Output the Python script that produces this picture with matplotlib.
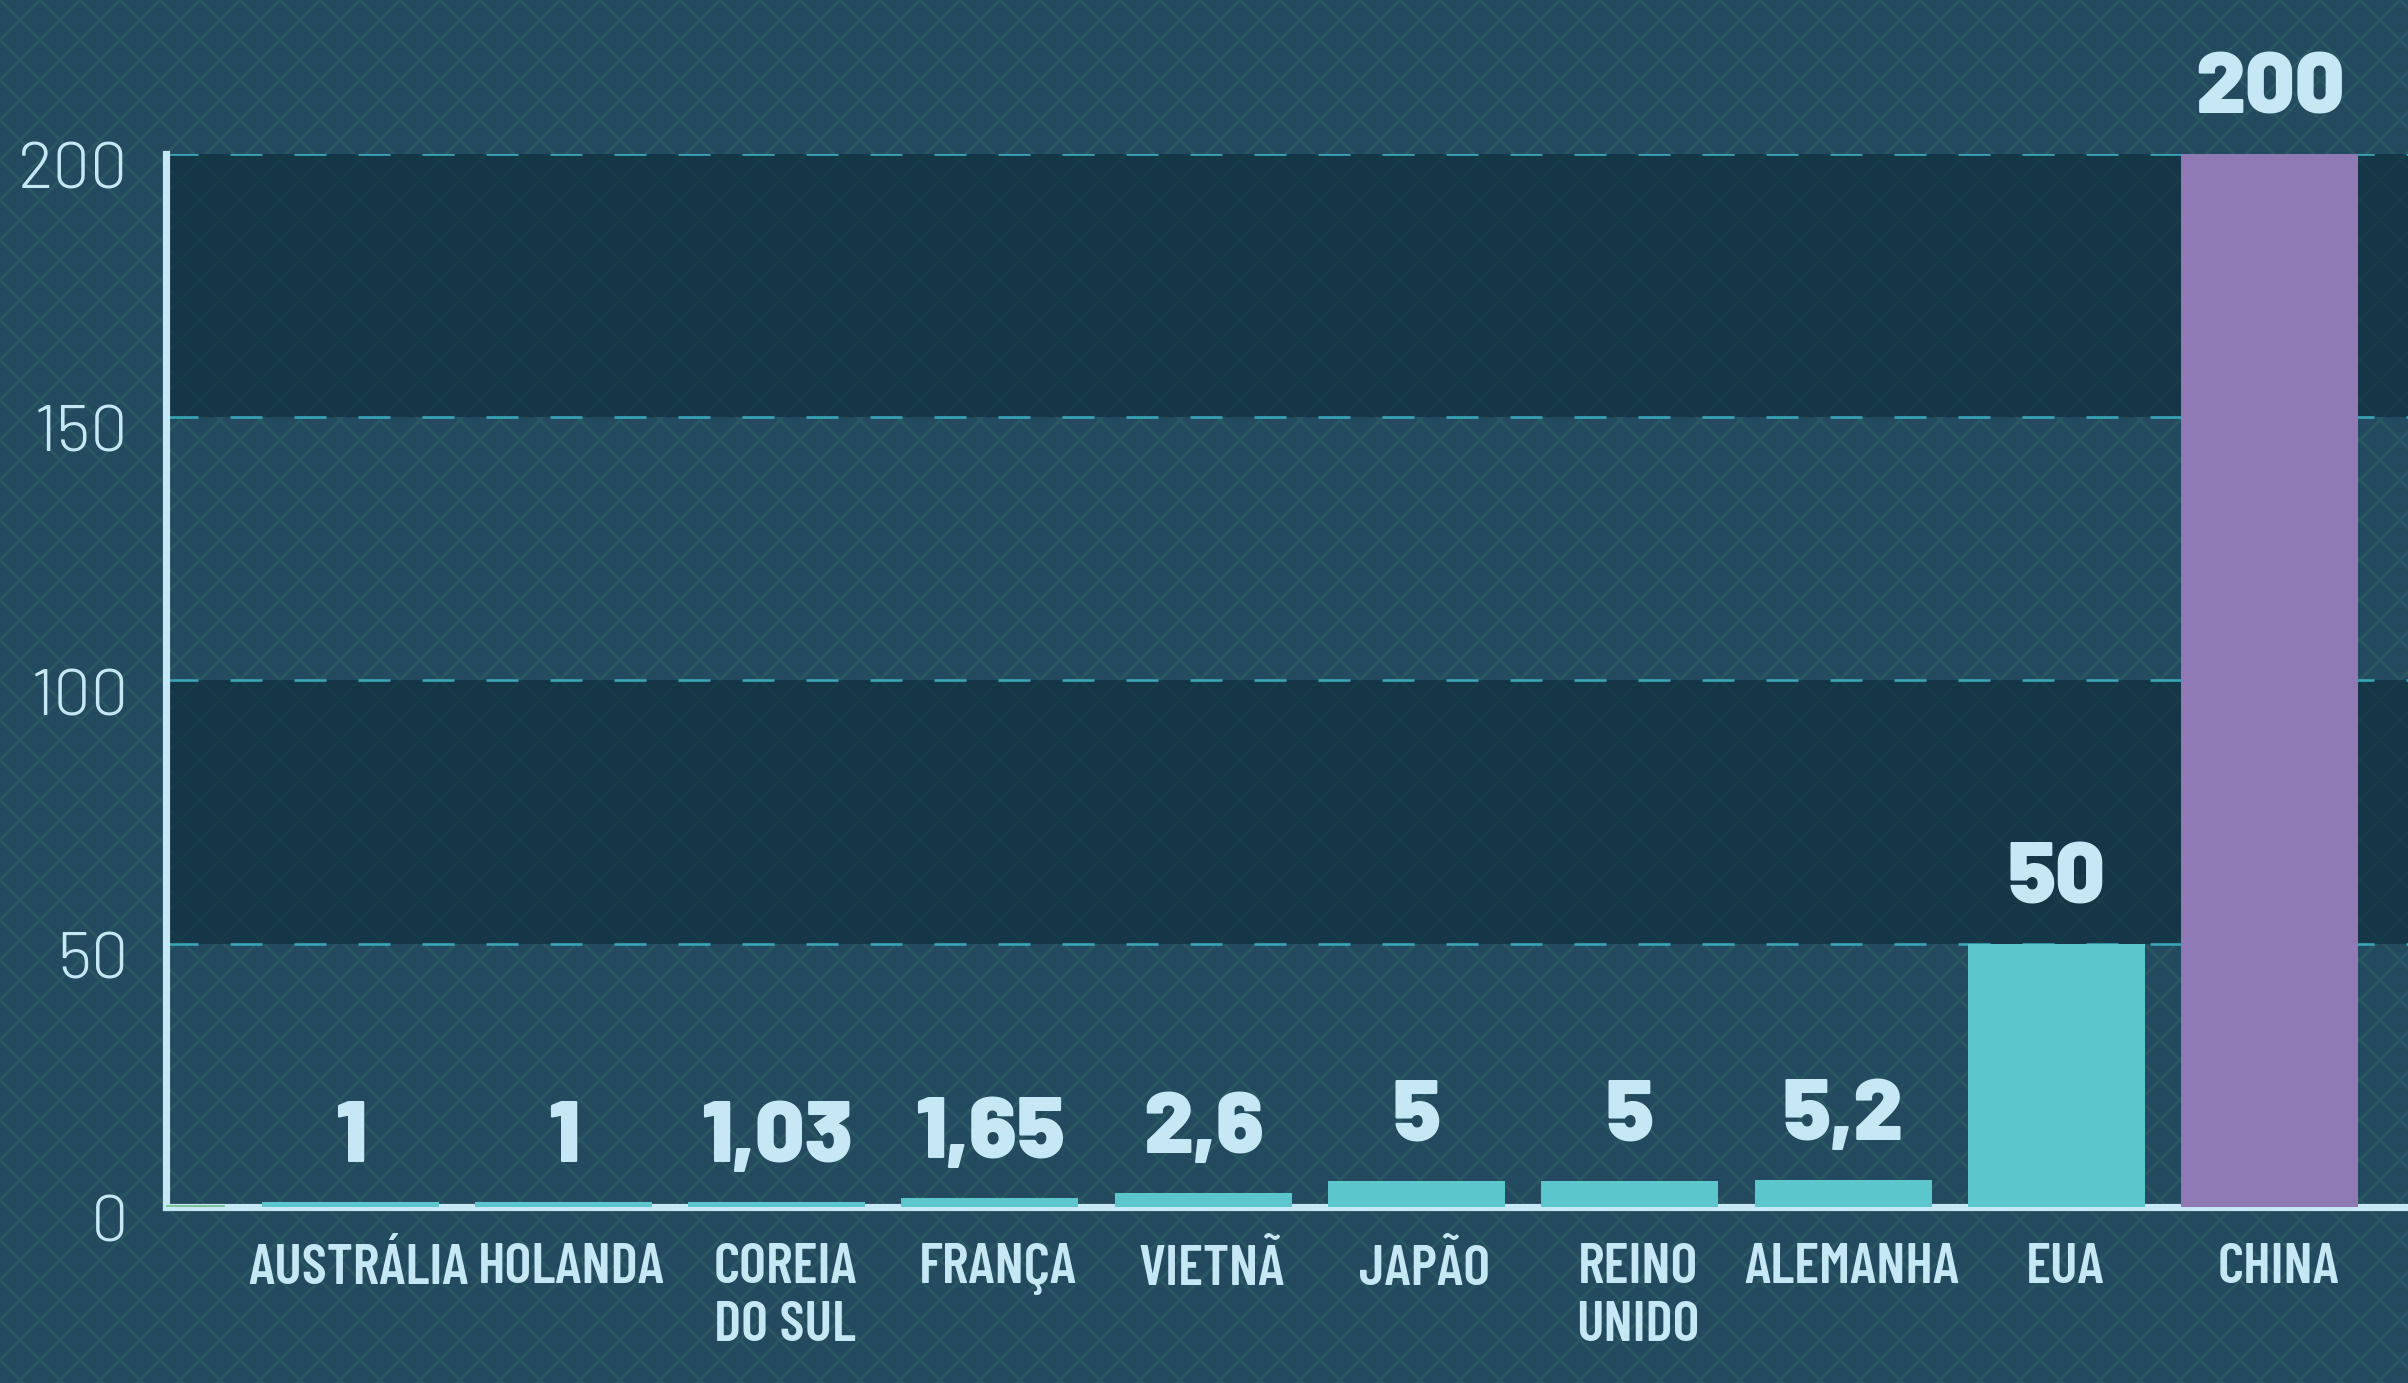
import os
import numpy as np
import matplotlib
matplotlib.use('Agg')
import matplotlib.pyplot as plt
from matplotlib import font_manager as fm
from matplotlib.patches import Rectangle
from matplotlib.transforms import ScaledTranslation

# dados (o primeiro item fica quase escondido, cortado pelo eixo)
paises = ['', 'AUSTRÁLIA', 'HOLANDA', 'COREIA\nDO SUL', 'FRANÇA', 'VIETNÃ',
          'JAPÃO', 'REINO\nUNIDO', 'ALEMANHA', 'EUA', 'CHINA']
valores = [0.4, 1, 1, 1.03, 1.65, 2.6, 5, 5, 5.2, 50, 200]
mostrar_valor = [False] + [True] * 10
yticks = [0, 50, 100, 150, 200]

# cores
fundo = '#234a5e'
trama = '#2a5862'
faixa = '#0b2a37'
texto = '#c6e8f4'
grade = '#3aa4b8'
cores = ['#7cc59b'] + ['#5bc6cc'] * 9 + ['#8f7ab6']


def achar_fonte(nomes):
    arquivos = {os.path.basename(f.fname).lower(): f.fname for f in fm.fontManager.ttflist}
    for n in nomes:
        if n.lower() in arquivos:
            return arquivos[n.lower()]
    return None


f_cat = achar_fonte(['BarlowCondensed-SemiBold.ttf', 'BarlowCondensed-Bold.ttf',
                     'DejaVuSansCondensed-Bold.ttf'])
f_val = achar_fonte(['Barlow-Black.ttf', 'Barlow-ExtraBold.ttf', 'Roboto-Black.ttf'])
f_eixo = achar_fonte(['Barlow-Light.ttf', 'Roboto-Light.ttf'])


def props(fname, size, **kw):
    if fname:
        return fm.FontProperties(fname=fname, size=size)
    return fm.FontProperties(family='DejaVu Sans', size=size, **kw)


fp_cat = props(f_cat, 34.5, weight='bold', stretch='condensed')
fp_val = props(f_val, 52, weight='bold')
fp_eixo = props(f_eixo, 40)

plt.rcParams['hatch.linewidth'] = 1.6
plt.rcParams['hatch.color'] = trama

fig = plt.figure(figsize=(2408 / 120, 1383 / 120), dpi=120)
fig.patch.set_facecolor(fundo)
fig.add_artist(Rectangle((0, 0), 1, 1, transform=fig.transFigure, facecolor='none',
                         edgecolor=trama, hatch='x', linewidth=0, zorder=-1))

ax = fig.add_axes([166 / 2408, 1 - 1207 / 1383, 1 - 166 / 2408, (1207 - 153.6) / 1383])
ax.set_facecolor('none')

# faixas escuras alternadas
for y0 in yticks[1::2]:
    ax.axhspan(y0, y0 + 50, color=faixa, alpha=0.6, lw=0, zorder=0)

x = np.arange(len(paises))
ax.bar(x, valores, width=0.83, color=cores, zorder=3)

for xi, v, ok in zip(x, valores, mostrar_valor):
    if ok:
        rot = f'{v:g}'.replace('.', ',')
        ax.annotate(rot, (xi, v), xytext=(0, 24), textcoords='offset points',
                    ha='center', va='baseline', color=texto, fontproperties=fp_val)

ax.set_xlim(0.137, 10.648)
ax.set_ylim(0, 200)

ax.set_yticks(yticks)
ax.set_xticks([])
ax.yaxis.grid(True, color=grade, lw=1.6, linestyle=(0, (12, 12)))
ax.set_axisbelow(True)
ax.tick_params(axis='y', length=0, labelleft=False)

# rótulos do eixo y
desloc_y = ScaledTranslation(-22.5 / 72, -11 / 72, fig.dpi_scale_trans)
for t in yticks:
    ax.text(0, t, str(t), transform=ax.get_yaxis_transform() + desloc_y,
            ha='right', va='center', color=texto, fontproperties=fp_eixo, clip_on=False)

# nomes dos países
desloc_x = ScaledTranslation(5 / 72, -21.5 / 72, fig.dpi_scale_trans)
for xi, nome in zip(x[1:], paises[1:]):
    ax.text(xi, 0, nome, transform=ax.get_xaxis_transform() + desloc_x,
            ha='center', va='top', ma='center', linespacing=1.2,
            color=texto, fontproperties=fp_cat, clip_on=False)

for s in ['top', 'right']:
    ax.spines[s].set_visible(False)
for s in ['left', 'bottom']:
    ax.spines[s].set_color(texto)
    ax.spines[s].set_linewidth(4.3)

fig.savefig('out.png', dpi=120, facecolor=fundo)
